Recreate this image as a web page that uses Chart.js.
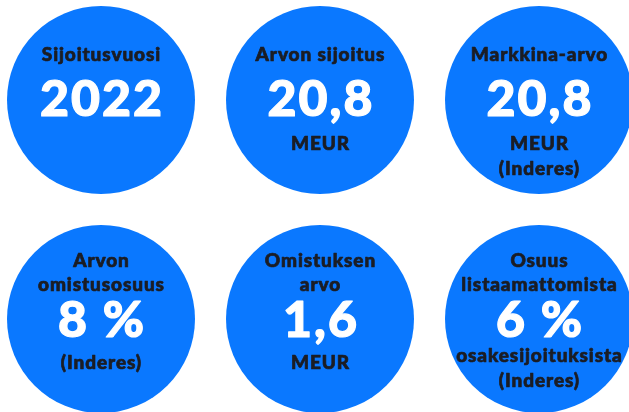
<!DOCTYPE html>
<html>
<head>
<meta charset="utf-8">
<script src="https://cdn.jsdelivr.net/npm/chart.js@4"></script>
<style>
  html, body { margin: 0; padding: 0; background: #ffffff; }
  #wrap { width: 629px; height: 412px; }
</style>
</head>
<body>
<div id="wrap"><canvas id="chart" width="629" height="412"></canvas></div>
<script>
// ── Data ──
const cols = [0, 1, 2, 0, 1, 2];
const rows = [0, 0, 0, 1, 1, 1];
const titles = [
    ['Sijoitusvuosi'],
    ['Arvon sijoitus'],
    ['Markkina-arvo'],
    ['Arvon', 'omistusosuus'],
    ['Omistuksen', 'arvo'],
    ['Osuus', 'listaamattomista'],
];
const values = ['2022', '20,8', '20,8', '8 %', '1,6', '6 %'];
const notes = [
    [],
    ['MEUR'],
    ['MEUR', '(Inderes)'],
    ['(Inderes)'],
    ['MEUR'],
    ['osakesijoituksista', '(Inderes)'],
];

const BLUE = '#0a78ff';
const DARK = '#1b1d24';
const FONT = "Lato, 'Open Sans', sans-serif";

// centred, letter-spaced, slightly emboldened text
function spaced(ctx, text, x, y, sp, w) {
    ctx.letterSpacing = sp + 'px';
    ctx.lineWidth = w;
    ctx.lineJoin = 'round';
    ctx.strokeStyle = ctx.fillStyle;
    ctx.fillText(text, x + sp / 2, y);
    ctx.strokeText(text, x + sp / 2, y);
}

// ── Text inside the circles ──
const circleText = {
    id: 'circleText',
    afterDatasetsDraw(chart) {
        const ctx = chart.ctx;
        const meta = chart.getDatasetMeta(0);
        ctx.save();
        ctx.textAlign = 'center';
        ctx.textBaseline = 'middle';
        meta.data.forEach((pt, i) => {
            const t = titles[i], n = notes[i];
            const two = t.length > 1;
            // title
            ctx.fillStyle = DARK;
            ctx.font = `900 19px ${FONT}`;
            t.forEach((line, k) => {
                const dy = two ? -58 + k * 24 : -45;
                spaced(ctx, line, pt.x, pt.y + dy, 0.9, 0.7);
            });
            // big value
            ctx.fillStyle = '#ffffff';
            ctx.font = `900 50px ${FONT}`;
            spaced(ctx, values[i], pt.x, pt.y + (two ? 2 : 0), 2, 1.2);
            // notes
            ctx.fillStyle = DARK;
            ctx.font = `900 19px ${FONT}`;
            const start = n.length > 1 && two ? 37 : 44;
            n.forEach((line, k) => {
                spaced(ctx, line, pt.x, pt.y + start + k * 25, 0.9, 0.7);
            });
        });
        ctx.restore();
    }
};

new Chart(document.getElementById('chart'), {
    type: 'scatter',
    data: {
        datasets: [{
            data: cols.map((c, i) => ({ x: c, y: rows[i] })),
            backgroundColor: BLUE,
            borderColor: BLUE,
            borderWidth: 0,
            pointRadius: 94,
            pointHoverRadius: 94,
            clip: false,
        }]
    },
    options: {
        responsive: false,
        animation: false,
        events: [],
        layout: { padding: 0, autoPadding: false },
        plugins: {
            legend: { display: false },
            tooltip: { enabled: false },
        },
        scales: {
            x: { type: 'linear', display: false, min: -101 / 219, max: 528 / 219 },
            y: { type: 'linear', display: false, reverse: true, min: -100 / 219, max: 312 / 219 },
        }
    },
    plugins: [circleText]
});
</script>
</body>
</html>
